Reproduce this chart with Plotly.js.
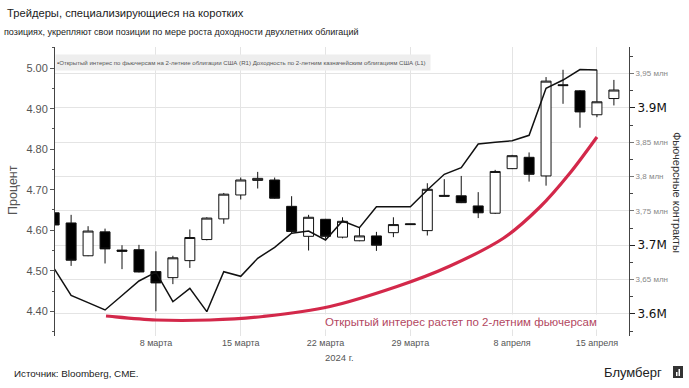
<!DOCTYPE html>
<html>
<head>
<meta charset="utf-8">
<script src="https://cdn.plot.ly/plotly-3.0.1.min.js"></script>
<style>
html,body{margin:0;padding:0;background:#fff;}
#chart{width:689px;height:388px;}
</style>
</head>
<body>
<div id="chart"></div>
<script>
// ---- data ----
const dates = ['2024-02-29','2024-03-01','2024-03-04','2024-03-05','2024-03-06','2024-03-07','2024-03-08',
  '2024-03-11','2024-03-12','2024-03-13','2024-03-14','2024-03-15','2024-03-18','2024-03-19','2024-03-20',
  '2024-03-21','2024-03-22','2024-03-25','2024-03-26','2024-03-27','2024-03-28','2024-03-29','2024-04-01',
  '2024-04-02','2024-04-03','2024-04-04','2024-04-05','2024-04-08','2024-04-09','2024-04-10','2024-04-11',
  '2024-04-12','2024-04-15','2024-04-16'];
const yieldOpen  = [4.643,4.618,4.537,4.596,4.551,4.552,4.498,4.483,4.525,4.577,4.628,4.687,4.723,4.724,4.659,4.585,4.627,4.583,4.574,4.586,4.594,4.616,4.599,4.686,4.685,4.660,4.642,4.752,4.780,4.734,4.959,4.944,4.885,4.925];
const yieldHigh  = [4.646,4.638,4.610,4.604,4.563,4.564,4.548,4.537,4.602,4.632,4.692,4.730,4.744,4.730,4.684,4.638,4.628,4.632,4.608,4.596,4.632,4.616,4.716,4.726,4.734,4.694,4.749,4.786,4.792,4.978,4.996,4.946,4.996,4.971];
const yieldLow   = [4.612,4.512,4.536,4.518,4.504,4.496,4.400,4.467,4.507,4.575,4.616,4.676,4.703,4.678,4.591,4.550,4.579,4.580,4.573,4.549,4.583,4.614,4.587,4.684,4.667,4.630,4.640,4.751,4.720,4.710,4.912,4.853,4.879,4.908];
const yieldClose = [4.613,4.526,4.598,4.554,4.548,4.497,4.470,4.532,4.582,4.630,4.689,4.724,4.728,4.679,4.597,4.632,4.585,4.622,4.586,4.563,4.614,4.614,4.701,4.684,4.668,4.643,4.745,4.784,4.738,4.968,4.957,4.892,4.917,4.946];
// open interest, millions of contracts
const openInterest = [3.6662,3.6271,3.6164,3.6058,3.6269,3.6480,3.6608,3.6178,3.6373,3.6033,3.6615,3.6548,3.6810,3.6970,3.7174,3.7207,3.7076,3.7353,3.7256,3.7561,3.7561,3.7561,3.7804,3.8033,3.8129,3.8474,3.8499,3.8522,3.8600,3.9285,3.9405,3.9558,3.9551,null];

const xTickVals = ['2024-03-08','2024-03-15','2024-03-22','2024-03-29','2024-04-08','2024-04-15'];
const xTickText = ['8 марта','15 марта','22 марта','29 марта','8 апреля','15 апреля'];
const leftTickVals = [4.4,4.5,4.6,4.7,4.8,4.9,5.0];
const leftTickText = ['4.40','4.50','4.60','4.70','4.80','4.90','5.00'];
const rightMajorVals = [3.6,3.7,3.9];
const rightMajorText = ['3.6M','3.7M','3.9M'];
const rightMinorVals = [3.65,3.75,3.8,3.85,3.95];
const rightMinorText = ['3,65 млн','3,75 млн','3,8 млн','3,85 млн','3,95 млн'];

// ---- layout helpers (pixel -> paper) ----
const W = 689, H = 388, ML = 55, MR = 60, MT = 47, MB = 52;
const PW = W - ML - MR, PH = H - MT - MB;
const px = x => (x - ML) / PW;
const py = y => (H - MB - y) / PH;

// decorative red arc (annotation), pixel guide points
const arcPts = [[106,316],[156,320],[210,320],[263,316.5],[330,306.5],[397,286.5],[450,266],[503,238.5],[540,207],[570,173],[597,137]];
function arcPath(pts){
  const p = pts.map(a => [px(a[0]), py(a[1])]);
  let d = 'M' + p[0][0] + ',' + p[0][1];
  for (let i = 0; i < p.length - 1; i++) {
    const p0 = p[i-1] || p[i], p1 = p[i], p2 = p[i+1], p3 = p[i+2] || p[i+1];
    const c1 = [p1[0] + (p2[0]-p0[0])/6, p1[1] + (p2[1]-p0[1])/6];
    const c2 = [p2[0] - (p3[0]-p1[0])/6, p2[1] - (p3[1]-p1[1])/6];
    d += ' C' + c1[0] + ',' + c1[1] + ' ' + c2[0] + ',' + c2[1] + ' ' + p2[0] + ',' + p2[1];
  }
  return d;
}

const FONT = 'Liberation Sans, Arial, sans-serif';
const GRID = '#e4e4e4';

const traces = [
  {
    type: 'candlestick', x: dates,
    open: yieldOpen, high: yieldHigh, low: yieldLow, close: yieldClose,
    xaxis: 'x', yaxis: 'y',
    increasing: {line: {color: '#111', width: 1}, fillcolor: '#ffffff'},
    decreasing: {line: {color: '#111', width: 1}, fillcolor: '#000000'},
    whiskerwidth: 0, hoverinfo: 'skip', showlegend: false
  },
  {
    type: 'scatter', mode: 'lines', x: dates, y: openInterest,
    xaxis: 'x', yaxis: 'y2', line: {color: '#111', width: 1.5},
    hoverinfo: 'skip', showlegend: false, cliponaxis: true
  },
  {
    type: 'scatter', mode: 'lines', x: [dates[0]], y: [null],
    xaxis: 'x', yaxis: 'y3', showlegend: false, hoverinfo: 'skip'
  }
];

const layout = {
  width: W, height: H,
  margin: {l: ML, r: MR, t: MT, b: MB, pad: 0},
  paper_bgcolor: '#ffffff', plot_bgcolor: '#ffffff',
  font: {family: FONT, color: '#333'},
  showlegend: false,
  boxgap: 0.16,
  xaxis: {
    type: 'category', range: [0.05, 33.89],
    tickmode: 'array', tickvals: xTickVals, ticktext: xTickText,
    showgrid: true, gridcolor: GRID, gridwidth: 1,
    ticks: '', showline: false, zeroline: false,
    tickfont: {size: 9, color: '#555', family: FONT},
    rangeslider: {visible: false}, fixedrange: true
  },
  yaxis: {
    range: [4.339, 5.0522],
    tickmode: 'array', tickvals: leftTickVals, ticktext: leftTickText,
    ticks: 'outside', ticklen: 4, tickcolor: '#555', tickwidth: 1,
    showline: true, linecolor: '#444', linewidth: 1,
    showgrid: false, zeroline: false,
    tickfont: {size: 11, color: '#555', family: FONT},
    minor: {tickmode: 'linear', tick0: 4.35, dtick: 0.05, ticks: 'outside', ticklen: 2, tickcolor: '#555', showgrid: false},
    fixedrange: true
  },
  yaxis2: {
    overlaying: 'y', side: 'right', anchor: 'x',
    range: [3.5679, 3.98857],
    tickmode: 'array', tickvals: rightMajorVals, ticktext: rightMajorText,
    ticks: 'outside', ticklen: 5, tickcolor: '#222', tickwidth: 1,
    showline: true, linecolor: '#444', linewidth: 1,
    showgrid: true, gridcolor: GRID, zeroline: false,
    tickfont: {size: 12, color: '#111', family: 'DejaVu Sans, sans-serif'},
    minor: {tickmode: 'linear', tick0: 3.575, dtick: 0.025, ticks: 'outside', ticklen: 3, tickcolor: '#444', showgrid: false},
    fixedrange: true
  },
  yaxis3: {
    overlaying: 'y', side: 'right', anchor: 'x',
    range: [3.5679, 3.98857],
    tickmode: 'array', tickvals: rightMinorVals, ticktext: rightMinorText,
    ticks: 'outside', ticklen: 4, tickcolor: '#777', tickwidth: 1,
    showline: false, showgrid: true, gridcolor: GRID, zeroline: false,
    tickfont: {size: 8, color: '#888', family: FONT},
    fixedrange: true
  },
  shapes: [
    {type: 'path', xref: 'paper', yref: 'paper', path: arcPath(arcPts),
     line: {color: '#d3284a', width: 3.2}, fillcolor: 'rgba(0,0,0,0)', layer: 'above'},
    {type: 'rect', xref: 'paper', yref: 'paper', x0: px(673), x1: px(683), y0: py(378), y1: py(366),
     fillcolor: '#333', line: {width: 0}},
    {type: 'rect', xref: 'paper', yref: 'paper', x0: px(676), x1: px(677.5), y0: py(376), y1: py(372),
     fillcolor: '#fff', line: {width: 0}},
    {type: 'rect', xref: 'paper', yref: 'paper', x0: px(678.5), x1: px(680), y0: py(376), y1: py(369),
     fillcolor: '#fff', line: {width: 0}}
  ],
  annotations: [
    {xref: 'paper', yref: 'paper', x: px(5), y: py(13), xanchor: 'left', yanchor: 'middle', showarrow: false,
     text: 'Трейдеры, специализирующиеся на коротких', font: {size: 11.2, color: '#222', family: FONT}},
    {xref: 'paper', yref: 'paper', x: px(2), y: py(32), xanchor: 'left', yanchor: 'middle', showarrow: false,
     text: 'позициях, укрепляют свои позиции по мере роста доходности двухлетних облигаций', font: {size: 9, color: '#222', family: FONT}},
    {xref: 'paper', yref: 'paper', x: px(55), y: py(62), xanchor: 'left', yanchor: 'middle', showarrow: false,
     width: 372, height: 13, align: 'left', bgcolor: '#eeeeee',
     text: '▪Открытый интерес по фьючерсам на 2-летние облигации США (R1) Доходность по 2-летним казначейским облигациям США (L1)',
     font: {size: 6.1, color: '#555', family: FONT}},
    {xref: 'paper', yref: 'paper', x: px(461), y: py(322), xanchor: 'center', yanchor: 'middle', showarrow: false,
     text: 'Открытый интерес растет по 2-летним фьючерсам', bgcolor: 'rgba(255,255,255,0.9)',
     font: {size: 11.5, color: '#b3475f', family: FONT}},
    {xref: 'paper', yref: 'paper', x: px(13), y: py(190), xanchor: 'center', yanchor: 'middle', showarrow: false,
     textangle: -90, text: 'Процент', font: {size: 12.5, color: '#555', family: FONT}},
    {xref: 'paper', yref: 'paper', x: px(677), y: py(192), xanchor: 'center', yanchor: 'middle', showarrow: false,
     textangle: 90, text: 'Фьючерсные контракты', font: {size: 11, color: '#333', family: FONT}},
    {xref: 'paper', yref: 'paper', x: px(339), y: py(357), xanchor: 'center', yanchor: 'middle', showarrow: false,
     text: '2024 г.', font: {size: 9.5, color: '#555', family: FONT}},
    {xref: 'paper', yref: 'paper', x: px(12), y: py(373), xanchor: 'left', yanchor: 'middle', showarrow: false,
     text: 'Источник: Bloomberg, CME.', font: {size: 9.8, color: '#222', family: FONT}},
    {xref: 'paper', yref: 'paper', x: px(664), y: py(372), xanchor: 'right', yanchor: 'middle', showarrow: false,
     text: 'Блумберг', font: {size: 13, color: '#222', family: FONT}}
  ]
};

Plotly.newPlot('chart', traces, layout, {staticPlot: true, displayModeBar: false});
</script>
</body>
</html>
